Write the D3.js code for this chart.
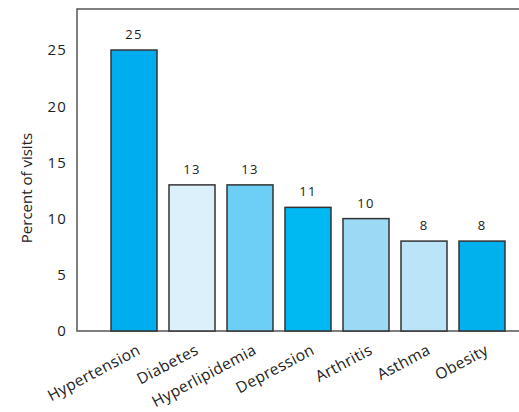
<!DOCTYPE html>
<html>
<head>
<meta charset="utf-8">
<script src="https://cdn.jsdelivr.net/npm/d3@7"></script>
<style>
  body { margin: 0; background: #fff; }
  text { font-family: "Open Sans", "DejaVu Sans", sans-serif; fill: #222; }
</style>
</head>
<body>
<svg id="chart"></svg>
<script>
// data
const conditions = ["Hypertension", "Diabetes", "Hyperlipidemia", "Depression", "Arthritis", "Asthma", "Obesity"];
const percents = [25, 13, 13, 11, 10, 8, 8];
const barColors = ["#00aeef", "#dcf0fb", "#6dcff6", "#00b9f2", "#9bd9f5", "#bce4f8", "#00b1ee"];
const yTicks = [0, 5, 10, 15, 20, 25];

const width = 519, height = 412;
const margin = { top: 9, right: 0, bottom: 81, left: 77 };

const svg = d3.select("#chart")
    .attr("width", width)
    .attr("height", height);

const y = d3.scaleLinear()
    .domain([0, 28.65])
    .range([height - margin.bottom, margin.top]);

const x = d3.scaleBand()
    .domain(conditions)
    .range([105, 511])
    .paddingInner(0.207)
    .paddingOuter(0.1035);

// frame: left + top + bottom
svg.append("path")
    .attr("d", "M" + (width) + "," + margin.top + "H" + margin.left + "V" + y(0) + "H" + width)
    .attr("fill", "none")
    .attr("stroke", "#555")
    .attr("stroke-width", 1.5);

// bars
svg.selectAll(".bar")
    .data(percents)
    .enter().append("rect")
    .attr("class", "bar")
    .attr("x", (d, i) => x(conditions[i]))
    .attr("y", d => y(d))
    .attr("width", x.bandwidth())
    .attr("height", d => y(0) - y(d))
    .attr("fill", (d, i) => barColors[i])
    .attr("stroke", "#333")
    .attr("stroke-width", 1.5);

// value labels
svg.selectAll(".val")
    .data(percents)
    .enter().append("text")
    .attr("class", "val")
    .attr("x", (d, i) => x(conditions[i]) + x.bandwidth() / 2)
    .attr("y", d => y(d) - 11)
    .attr("text-anchor", "middle")
    .attr("font-size", 13)
    .attr("letter-spacing", 1.2)
    .text(d => d);

// y axis labels (no ticks drawn)
const yAxis = d3.axisLeft(y).tickValues(yTicks).tickSize(0).tickPadding(10);
const gy = svg.append("g")
    .attr("transform", "translate(" + margin.left + ",0)")
    .call(yAxis);
gy.select(".domain").remove();
gy.selectAll("text")
    .attr("font-size", 15)
    .attr("letter-spacing", 1.2)
    .attr("font-family", "Open Sans, DejaVu Sans, sans-serif")
    .attr("fill", "#222");

// x axis labels, rotated
const xAxis = d3.axisBottom(x).tickSize(0).tickPadding(0);
const gx = svg.append("g")
    .attr("transform", "translate(0," + y(0) + ")")
    .call(xAxis);
gx.select(".domain").remove();
gx.selectAll("text")
    .attr("font-size", 15.5)
    .attr("letter-spacing", 0.4)
    .attr("font-family", "Open Sans, DejaVu Sans, sans-serif")
    .attr("fill", "#222")
    .attr("text-anchor", "end")
    .attr("dy", "0.9em")
    .attr("transform", "translate(1,10) rotate(-28)");

// y axis title
svg.append("text")
    .attr("transform", "translate(32,188) rotate(-90)")
    .attr("text-anchor", "middle")
    .attr("font-size", 15)
    .text("Percent of visits");
</script>
</body>
</html>
